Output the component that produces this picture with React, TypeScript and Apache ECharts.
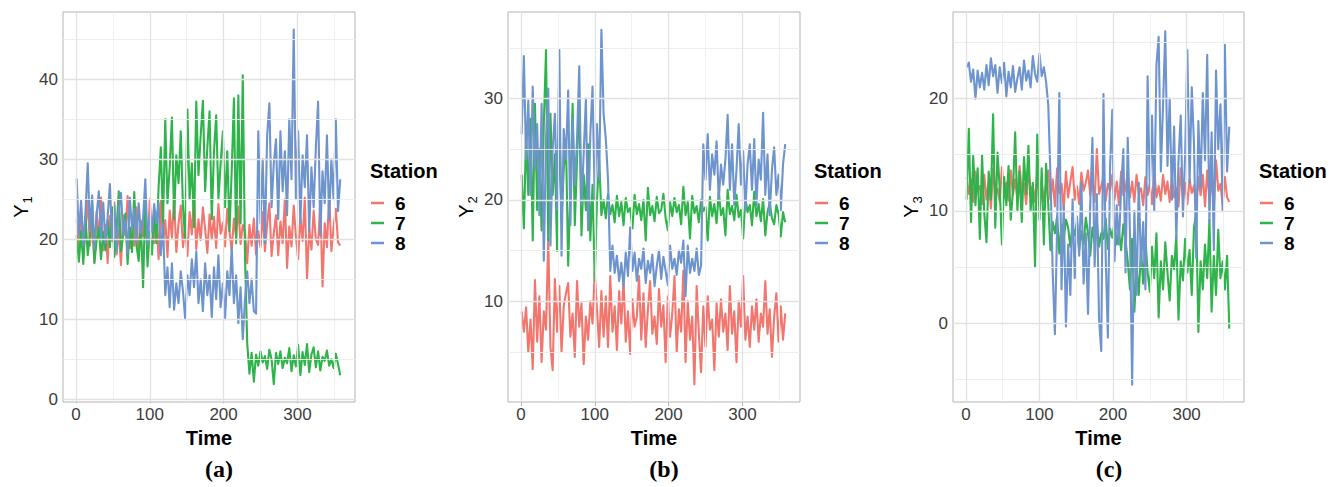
import React, { useEffect, useRef } from 'react';
import * as echarts from 'echarts';

// ---------- data ----------
const TIME_START = 1;
const TIME_STEP = 3;
const N_POINTS = 120;
const time: number[] = Array.from({ length: N_POINTS }, (_, i) => TIME_START + TIME_STEP * i);

const stations = ['6', '7', '8'];
const stationColors = ['#F3766E', '#2FB34B', '#6E94CE'];

const xTicks = [0, 100, 200, 300];
const xMinor = [50, 150, 250, 350];

const y1Ticks = [0, 10, 20, 30, 40];
const y1Minor = [5, 15, 25, 35, 45];
const y2Ticks = [10, 20, 30];
const y2Minor = [5, 15, 25, 35];
const y3Ticks = [0, 10, 20];
const y3Minor = [-5, 5, 15, 25];

// Panel (a) Y1
const y1_s6 = [
  22.5, 18.5, 23.8, 17.8, 21.5, 24.9, 19.2, 22.0, 17.2, 23.5, 20.1, 25.2, 18.6, 21.8, 17.0, 22.9, 19.8, 24.6, 18.1, 21.2,
  16.8, 23.0, 20.5, 25.4, 18.9, 21.6, 19.2, 24.0, 17.6, 22.3, 20.4, 23.7, 18.3, 25.0, 21.0, 19.5, 23.2,
  17.5, 24.8, 19.6, 22.4, 17.8, 23.6, 20.2, 25.1, 18.4, 22.0, 24.2, 19.0, 21.7, 17.9, 23.4, 20.6, 25.6, 18.8, 22.5, 19.9,
  24.0, 21.3, 18.3, 23.1, 20.0, 22.8, 18.9, 24.4, 20.7, 22.1, 19.1, 23.8, 21.0, 18.6, 22.6, 20.3, 24.1, 19.4, 21.8, 20.9,
  17.0, 21.8, 19.2, 22.6, 18.1, 21.0,
  19.0, 23.4, 18.5, 21.9, 24.5, 17.9, 20.8, 23.0, 18.0, 22.2, 19.5, 25.0, 16.4, 21.6, 19.1, 24.2, 20.3, 17.5, 22.8, 19.8,
  25.2, 15.1, 21.4, 18.7, 23.6, 20.0, 19.3, 24.6, 14.1, 22.0, 19.0, 25.6, 18.5, 21.5, 23.8, 19.6, 19.2,
];
const y1_s7 = [
  20.5, 17.2, 21.0, 16.9, 22.8, 18.0, 20.6, 24.2, 17.0, 19.8, 21.5, 17.5, 20.9, 18.6, 22.4, 19.0, 24.0, 17.8, 21.2, 26.0,
  18.5, 20.4, 23.2, 16.9, 21.5, 18.4, 25.9, 19.2, 17.3, 22.1, 14.0, 25.3, 16.6, 21.0, 18.1, 23.5, 19.5,
  26.5, 31.5, 22.0, 35.0, 24.5, 29.0, 35.2, 22.5, 30.5, 27.0, 33.5, 24.0, 20.0, 36.2, 25.0, 29.5, 21.5, 37.2, 28.0, 33.0,
  37.3, 26.0, 31.5, 36.0, 22.5, 31.0, 35.5, 25.0, 29.5, 33.5, 24.0, 31.0, 21.0, 28.5, 37.6, 19.5, 38.0, 22.0, 40.5, 18.0,
  7.0, 3.2, 5.8, 2.2, 5.6, 4.2, 6.0, 4.6, 5.4, 3.8, 6.2, 5.0, 1.9, 5.8, 4.4, 6.0, 3.9, 5.2, 4.5, 6.4,
  3.5, 5.5, 4.1, 6.8, 3.0, 5.9, 4.3, 6.9, 3.4, 5.6, 6.5, 4.0, 6.0, 3.6, 5.3, 4.8, 6.1, 4.2, 5.0, 3.9, 5.7, 4.4, 3.0,
];
const y1_s8 = [
  27.6, 20.5, 24.8, 19.2, 23.5, 29.5, 21.0, 25.5, 18.8, 23.0, 26.0, 20.2, 24.6, 19.5, 22.8, 26.9, 20.0, 24.2, 18.4, 23.6,
  25.8, 20.6, 22.4, 18.2, 25.2, 21.3, 23.8, 19.6, 24.5, 20.8, 22.6, 27.5, 19.3, 23.2, 21.0, 24.4, 22.0,
  24.5, 18.0, 22.0, 13.0, 16.5, 11.5, 17.0, 11.2, 14.5, 12.0, 16.0, 13.5, 10.0, 15.5, 13.0, 17.5, 14.0, 18.5, 12.0, 15.0,
  11.0, 17.0, 13.0, 15.5, 10.3, 16.5, 12.5, 18.0, 11.5, 14.5, 10.0, 16.0, 13.0, 19.0, 12.0, 15.5, 9.5, 14.0, 7.5, 12.5,
  16.0, 12.0, 15.0, 11.0, 10.7,
  33.5, 22.0, 30.0, 19.5, 33.0, 37.0, 24.0, 29.5, 32.5, 22.5, 33.5, 26.0, 31.0, 23.0, 35.0, 27.5, 46.2, 25.0, 33.5, 22.0,
  30.5, 26.5, 33.0, 21.0, 29.0, 24.0, 31.5, 37.2, 20.5, 28.5, 24.5, 33.0, 22.5, 30.0, 25.0, 35.0, 23.5, 27.5,
];

// Panel (b) Y2
const y2_s6 = [
  9.0, 7.0, 9.4, 5.0, 8.2, 3.3, 12.1, 6.0, 10.5, 4.0, 9.0, 7.2, 16.2, 5.5, 3.2, 12.2, 7.0, 11.5, 5.0, 9.5,
  10.8, 11.8, 6.5, 8.8, 4.5, 12.0, 7.5, 9.8, 3.8, 8.5, 6.2, 10.0, 7.8, 13.0, 9.2, 5.5, 11.0,
  6.5, 10.5, 5.5, 12.5, 7.0, 9.5, 5.2, 11.0, 7.8, 12.2, 6.0, 9.0, 4.8, 10.2, 7.5, 8.5, 12.5, 6.2, 10.8, 5.5,
  9.2, 12.0, 6.8, 8.5, 5.8, 11.2, 7.5, 9.6, 4.0, 10.5, 6.5, 8.8, 12.5, 5.0, 9.2, 7.0, 13.0, 4.0, 10.0, 6.2,
  8.5, 1.8, 11.5, 6.8, 3.0, 9.5, 5.5, 10.5, 7.2, 8.2, 3.2, 9.8, 6.5, 10.2, 7.0, 8.8, 5.2, 11.5, 6.8, 9.0,
  4.0, 10.0, 7.5, 12.5, 6.2, 8.5, 5.5, 9.5, 7.2, 10.2, 6.0, 8.8, 7.5, 12.0, 6.8, 9.2, 4.5, 8.5, 10.8, 6.0, 9.5, 6.2, 8.8,
];
const y2_s7 = [
  22.5, 17.2, 26.5, 20.5, 28.0, 16.0, 29.5, 19.0, 25.0, 17.0, 27.5, 34.8, 16.0, 28.5, 20.5, 24.5, 15.0, 27.8, 18.0, 23.0,
  26.0, 13.5, 21.0, 29.5, 17.5, 24.0, 30.0, 16.5, 22.5, 19.0, 25.5, 16.0, 21.5, 12.0, 20.0, 24.0, 18.5,
  20.0, 18.2, 20.6, 18.6, 19.5, 17.8, 20.4, 18.4, 19.8, 17.5, 20.2, 18.8, 19.2, 17.2, 20.5, 18.6, 19.6, 18.0, 20.0, 16.0,
  21.2, 18.5, 19.4, 17.9, 20.3, 18.7, 19.0, 20.6, 18.2, 17.0, 19.8, 18.4, 20.2, 18.8, 19.5, 17.6, 21.3, 18.5, 19.8, 16.2,
  20.4, 18.7, 19.4, 17.8, 20.0, 18.9, 19.3, 16.0, 20.3, 18.4, 19.6, 17.7, 20.8, 18.5, 19.2, 16.5, 21.0, 18.6, 19.4, 18.0,
  20.5, 18.3, 19.0, 16.2, 20.2, 18.8, 19.5, 17.5, 20.8, 18.4, 19.6, 17.9, 20.1, 16.5, 18.8, 19.7, 18.2, 17.6, 19.5, 18.6,
  16.4, 18.8, 17.8,
];
const y2_s8 = [
  26.5, 34.2, 24.0, 29.8, 20.5, 31.2, 23.0, 27.5, 18.5, 29.5, 14.0, 26.0, 31.0, 15.5, 25.0, 28.5, 19.0, 34.8, 14.5, 27.0,
  24.0, 30.8, 17.5, 28.0, 21.5, 26.0, 33.2, 19.5, 24.5, 30.0, 17.0, 26.5, 31.2, 20.0, 27.5, 22.0, 36.8, 28.5, 26.0,
  22.0, 13.0, 15.5, 12.8, 14.5, 12.0, 13.8, 11.5, 14.8, 12.5, 17.3, 13.0, 14.8, 12.0, 14.2, 13.2, 15.2, 11.8, 14.0, 12.8,
  14.6, 11.5, 13.5, 15.0, 12.2, 14.4, 13.0, 11.6, 15.5, 13.2, 14.2, 12.6, 15.0, 13.8, 16.0, 10.5, 15.5, 12.8, 14.2, 13.0,
  15.2, 12.6, 13.5,
  25.5, 22.0, 26.5, 21.0, 24.5, 22.5, 25.8, 20.0, 23.5, 21.5, 24.0, 28.4, 21.0, 25.5, 19.5, 23.0, 27.5, 21.5, 24.8, 19.0,
  23.5, 25.5, 21.0, 26.0, 19.5, 24.0, 22.0, 28.6, 20.5, 24.5, 18.5, 23.0, 25.2, 20.5, 22.5, 19.0, 23.5, 25.5,
];

// Panel (c) Y3
const y3_s6 = [
  13.0, 11.5, 12.8, 10.8, 13.5, 11.8, 12.2, 10.6, 13.2, 11.0, 12.6, 10.2, 13.8, 11.5, 12.0, 10.8, 13.9, 11.2, 12.5, 10.9,
  13.6, 11.4, 12.8, 11.0, 14.0, 11.6, 12.4, 10.6, 13.7, 11.8, 12.2, 10.8, 13.5, 11.2, 12.6, 10.8, 12.4,
  13.6, 11.0, 12.8, 10.4, 13.8, 11.6, 12.4, 10.2, 13.5, 11.2, 12.6, 13.9, 11.0, 12.2, 10.6, 13.4, 11.8, 12.5, 13.6, 11.4,
  12.8, 10.8, 15.5, 11.5, 12.2, 13.0, 10.9, 12.4, 11.8, 13.2, 11.0, 12.6, 10.5, 13.5, 11.4, 12.0, 13.4, 11.2, 12.6, 10.8,
  13.2, 11.6, 12.0, 10.5, 13.0, 11.4, 12.4, 10.6, 13.6, 11.2, 12.2, 10.9, 13.2, 11.5, 12.6, 10.8, 13.0, 11.2, 12.0, 10.4,
  13.8, 11.0, 12.5, 10.6, 12.8, 11.6, 12.2, 10.3, 13.0, 11.4, 13.2, 10.4, 13.6, 11.0, 12.8, 10.3, 14.5, 11.8, 12.4, 10.5,
  13.0, 11.2, 10.8,
];
const y3_s7 = [
  11.0, 17.3, 9.0, 14.9, 10.5, 13.8, 7.5, 15.0, 9.8, 7.2, 13.5, 11.0, 18.6, 8.5, 15.2, 12.0, 7.0, 13.0, 10.5, 14.0,
  9.2, 11.8, 17.0, 10.0, 13.5, 9.0, 14.8, 11.5, 15.8, 10.0, 12.5, 5.0, 16.8, 9.2, 13.8, 7.0, 14.2,
  10.5, 6.5, 9.0, 8.0, 9.5, 6.2, 8.8, 7.5, 9.2, 8.5, 6.8, 8.6, 7.8, 9.0, 6.5, 8.2, 7.0, 9.4, 8.0, 6.0,
  8.5, 7.2, 9.0, 6.8, 8.0, 7.5, 9.3, 6.6, 8.4, 7.6, 9.0, 7.0, 8.2, 6.5, 8.8, 7.4,
  5.5, 3.0, 7.5, 1.0, 5.0, 2.5, 6.5, 3.5, 7.5, 4.5, 2.8, 6.8, 4.0, 8.0, 0.5, 5.5, 3.0, 7.2, 4.5, 2.0,
  6.0, 4.8, 7.8, 0.3, 5.5, 3.8, 7.5, 4.5, 6.5, 2.5, 8.5, 9.8, -0.8, 5.5, 3.0, 7.0, 4.0, 9.2, 1.0, 6.0,
  2.5, 8.3, 4.0, 5.5, 3.0, 6.0, -0.5,
];
const y3_s8 = [
  22.8, 23.2, 21.5, 22.6, 20.0, 22.5, 21.0, 22.3, 20.8, 23.0, 21.2, 23.6, 22.0, 23.0, 20.5, 22.8, 21.4, 23.2, 20.2, 22.4,
  21.0, 22.9, 20.6, 21.8, 22.8, 20.8, 23.4, 21.6, 22.5, 21.0, 23.8, 22.2, 21.5, 24.0, 22.0, 22.8, 21.5, 19.4,
  13.0, 4.5, -1.0, 8.5, 20.5, 3.0, 10.5, -0.3, 7.0, 2.5, 11.0, 4.0, 9.5, 6.0, 12.5, 3.5, 8.0, 0.8, 10.5, 16.5,
  5.0, 11.5, 0.3, -2.5, 20.4, 6.0, -1.3, 14.0, 19.0, 5.5, 10.5, 7.0, 12.0, 15.5, 4.5, 16.5, 8.0, -5.5, 10.0, 2.5,
  12.5, 5.0, 9.0, 3.0,
  22.0, 12.0, 18.5, 10.0, 23.0, 25.5, 13.5, 19.5, 26.0, 14.0, 20.0, 11.0, 17.5, 7.5, 14.5, 18.5, 9.5, 15.0, 24.3, 12.5,
  21.0, 16.0, 5.8, 18.0, 12.0, 20.5, 14.5, 23.9, 9.0, 17.0, 6.5, 22.5, 15.5, 19.5, 10.0, 24.8, 13.5, 17.5,
];

const SANS = '"Liberation Sans", Arial, Helvetica, sans-serif';
const SERIF = '"Liberation Serif", "Times New Roman", serif';

const panels = [
  { left: 63, width: 292, yMin: -0.34, yMax: 48.4, ticks: y1Ticks, minor: y1Minor, sub: '1', series: [y1_s6, y1_s7, y1_s8], legendLeft: 371, caption: '(a)', captionX: 219 },
  { left: 508, width: 292, yMin: 0.06, yMax: 38.55, ticks: y2Ticks, minor: y2Minor, sub: '2', series: [y2_s6, y2_s7, y2_s8], legendLeft: 815, caption: '(b)', captionX: 664 },
  { left: 953, width: 291, yMin: -7.04, yMax: 27.72, ticks: y3Ticks, minor: y3Minor, sub: '3', series: [y3_s6, y3_s7, y3_s8], legendLeft: 1260, caption: '(c)', captionX: 1109 },
];

const GRID_TOP = 12;
const GRID_HEIGHT = 390;

function buildOption() {
  const majorLine = { color: '#E2E2E2', width: 1.3, type: 'solid' as const };
  const minorLine = { color: '#EDEDED', width: 0.9, type: 'solid' as const };
  const grid: any[] = [];
  const xAxis: any[] = [];
  const yAxis: any[] = [];
  const series: any[] = [];
  const legend: any[] = [];
  const title: any[] = [];

  panels.forEach((p, k) => {
    grid.push({
      left: p.left, top: GRID_TOP, width: p.width, height: GRID_HEIGHT,
      show: true, borderColor: '#B3B3B3', borderWidth: 1, backgroundColor: '#FFFFFF',
    });
    xAxis.push({
      type: 'value', gridIndex: k, min: -17.5, max: 378,
      name: 'Time', nameLocation: 'middle', nameGap: 19,
      nameTextStyle: { fontFamily: SANS, fontWeight: 'bold', fontSize: 20, color: '#000' },
      axisLine: { show: false },
      axisTick: { show: true, length: 4, lineStyle: { color: '#B3B3B3', width: 1 }, customValues: xTicks },
      axisLabel: { customValues: xTicks, fontFamily: SANS, fontSize: 17, color: '#3C3C3C', margin: 4 },
      splitLine: { show: false },
    });
    yAxis.push({
      type: 'value', gridIndex: k, min: p.yMin, max: p.yMax,
      name: '{a|Y}{b|' + p.sub + '}', nameLocation: 'middle', nameGap: 32, nameRotate: 90,
      nameTextStyle: {
        fontFamily: SANS, fontSize: 20, color: '#000',
        rich: {
          a: { fontFamily: SANS, fontSize: 20, color: '#000' },
          b: { fontFamily: SANS, fontSize: 13, color: '#000', verticalAlign: 'bottom', padding: [0, 0, -3, 1] },
        },
      },
      axisLine: { show: false },
      axisTick: { show: true, length: 4, lineStyle: { color: '#B3B3B3', width: 1 }, customValues: p.ticks },
      axisLabel: { customValues: p.ticks, fontFamily: SANS, fontSize: 17, color: '#3C3C3C', margin: 5 },
      splitLine: { show: false },
    });
    // grid lines through the axes' own scales
    series.push({
      type: 'line', xAxisIndex: k, yAxisIndex: k, data: [], z: 1, silent: true,
      markLine: {
        silent: true, symbol: ['none', 'none'], label: { show: false }, animation: false,
        data: [
          ...xMinor.map((v) => ({ xAxis: v, lineStyle: minorLine })),
          ...p.minor.map((v) => ({ yAxis: v, lineStyle: minorLine })),
          ...xTicks.map((v) => ({ xAxis: v, lineStyle: majorLine })),
          ...p.ticks.map((v) => ({ yAxis: v, lineStyle: majorLine })),
        ],
      },
    });
    p.series.forEach((vals, j) => {
      series.push({
        type: 'line', name: stations[j], xAxisIndex: k, yAxisIndex: k, z: 3,
        data: time.map((t, i) => [t, vals[i]]),
        showSymbol: false, symbol: 'none', silent: true,
        lineStyle: { width: 2.1, color: stationColors[j], join: 'round' },
        itemStyle: { color: stationColors[j] },
      });
    });
    legend.push({
      orient: 'vertical', left: p.legendLeft, top: 193, icon: 'rect', itemWidth: 13, itemHeight: 2.5,
      itemGap: 0, selectedMode: false, data: stations, padding: 0,
      textStyle: { fontFamily: SANS, fontSize: 19, fontWeight: 'bold', color: '#000', lineHeight: 20, padding: [0, 0, 0, 6] },
    });
    title.push({
      text: 'Station', left: p.legendLeft - 1, top: 161, padding: 0,
      textStyle: { fontFamily: SANS, fontSize: 20, fontWeight: 'bold', color: '#000' },
    });
    title.push({
      text: p.caption, left: p.captionX, top: 457, textAlign: 'center', padding: 0,
      textStyle: { fontFamily: SERIF, fontSize: 24, fontWeight: 'bold', color: '#000' },
    });
  });

  return {
    animation: false,
    backgroundColor: '#FFFFFF',
    grid, xAxis, yAxis, series, legend, title,
  };
}

export default function App() {
  const ref = useRef<HTMLDivElement>(null);
  useEffect(() => {
    if (!ref.current) return;
    const chart = echarts.init(ref.current, undefined, { renderer: 'svg' });
    chart.setOption(buildOption() as any);
    return () => chart.dispose();
  }, []);
  return (
    <div
      ref={ref}
      style={{ position: 'fixed', left: 0, top: 0, width: 1331, height: 487, background: '#fff' }}
    />
  );
}
